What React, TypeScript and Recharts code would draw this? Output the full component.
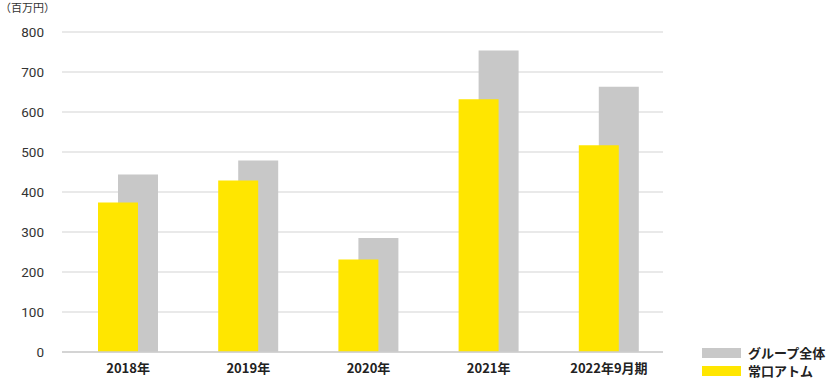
import { BarChart, Bar, XAxis, YAxis, CartesianGrid } from "recharts";

const categories = ["2018年", "2019年", "2020年", "2021年", "2022年9月期"];
const groupTotal = [444, 479, 285, 754, 663];
const joguchiAtom = [374, 429, 231, 632, 517];
const yTicks = [0, 100, 200, 300, 400, 500, 600, 700, 800];

const GRAY = "#c8c8c8";
const YELLOW = "#ffe600";
const FONT = "'Noto Sans CJK JP', 'Noto Sans', sans-serif";

const data = categories.map((name, i) => ({
  name,
  group: groupTotal[i],
  atom: joguchiAtom[i],
}));

export default function App() {
  return (
    <div
      style={{
        position: "absolute",
        left: 0,
        top: 0,
        width: 830,
        height: 381,
        background: "#fff",
        fontFamily: FONT,
      }}
    >
      <div
        style={{
          position: "absolute",
          left: 0,
          top: 0,
          fontSize: 11,
          lineHeight: "14px",
          color: "#333",
        }}
      >
        （百万円）
      </div>
      <BarChart
        width={830}
        height={381}
        data={data}
        margin={{ top: 32, right: 167, left: 0, bottom: 0 }}
      >
        <CartesianGrid
          xAxisId="label"
          vertical={false}
          stroke="#d4d4d4"
          strokeWidth={1.2}
        />
        <XAxis
          xAxisId="label"
          dataKey="name"
          height={29}
          padding={{ left: 6, right: -6 }}
          axisLine={{ stroke: "#cccccc", strokeWidth: 1.5 }}
          tickLine={false}
          tickSize={0}
          tickMargin={12}
          tick={{ fontSize: 13, fill: "#222", fontWeight: 700, fontFamily: FONT }}
          interval={0}
        />
        <XAxis xAxisId="g" dataKey="name" hide height={0} padding={{ left: 16, right: -16 }} />
        <XAxis xAxisId="y" dataKey="name" hide height={0} padding={{ left: -4, right: 4 }} />
        <YAxis
          width={62}
          domain={[0, 800]}
          ticks={yTicks}
          axisLine={false}
          tickLine={false}
          tickSize={0}
          tickMargin={18}
          tick={{ fontSize: 13.5, fill: "#333", fontFamily: "Roboto, sans-serif" }}
        />
        <Bar
          xAxisId="g"
          dataKey="group"
          fill={GRAY}
          barSize={40}
          isAnimationActive={false}
        />
        <Bar
          xAxisId="y"
          dataKey="atom"
          fill={YELLOW}
          barSize={40}
          isAnimationActive={false}
        />
      </BarChart>
      <div
        style={{
          position: "absolute",
          left: 702,
          top: 344,
          fontSize: 13,
          fontWeight: 700,
          color: "#222",
          lineHeight: "18px",
        }}
      >
        <div style={{ display: "flex", alignItems: "center" }}>
          <span style={{ width: 39, height: 10, background: GRAY, marginRight: 7 }} />
          グループ全体
        </div>
        <div style={{ display: "flex", alignItems: "center" }}>
          <span style={{ width: 39, height: 10, background: YELLOW, marginRight: 7 }} />
          常口アトム
        </div>
      </div>
    </div>
  );
}
